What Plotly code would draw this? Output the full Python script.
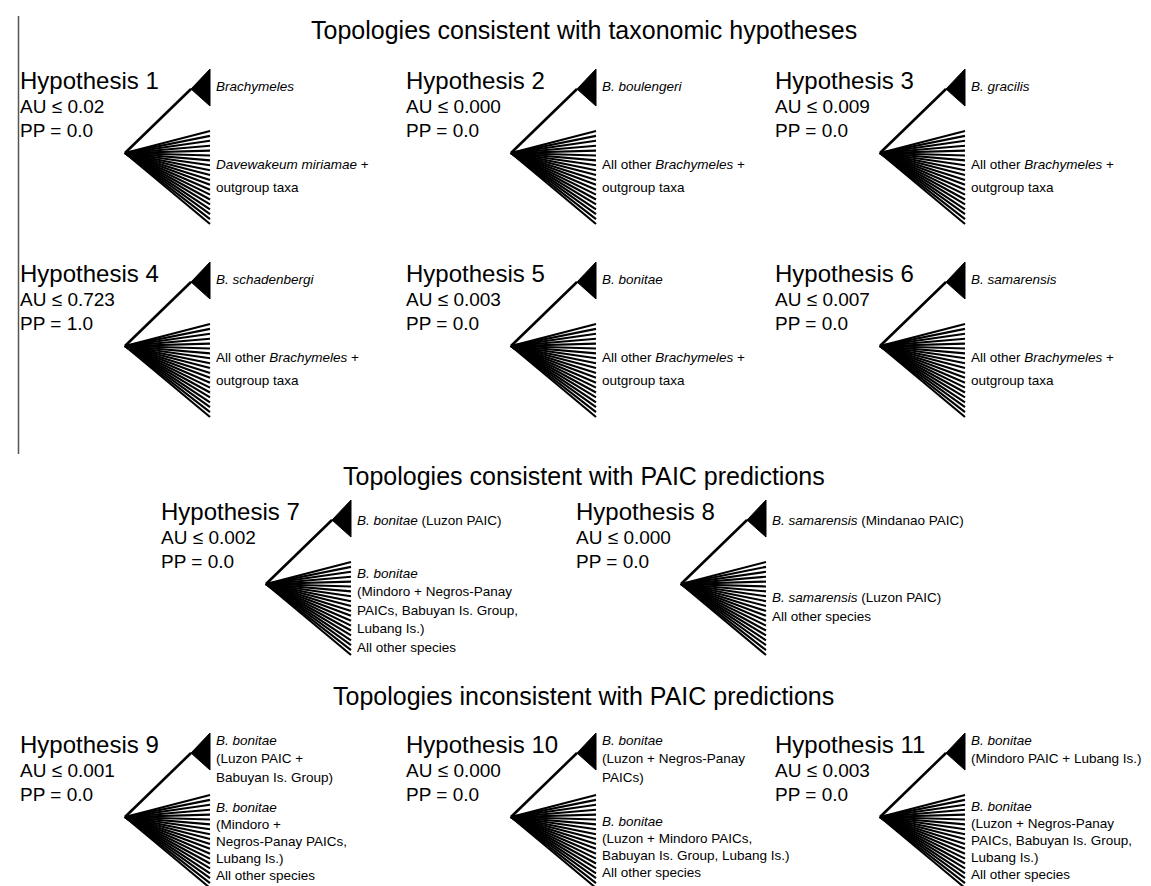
import plotly.graph_objects as go

# ---------------- data ----------------
section_titles = [
    "Topologies consistent with taxonomic hypotheses",
    "Topologies consistent with PAIC predictions",
    "Topologies inconsistent with PAIC predictions",
]
hyp_numbers = [1, 2, 3, 4, 5, 6, 7, 8, 9, 10, 11]
au_values = ["0.02", "0.000", "0.009", "0.723", "0.003", "0.007",
             "0.002", "0.000", "0.001", "0.000", "0.003"]
pp_values = ["0.0", "0.0", "0.0", "1.0", "0.0", "0.0",
             "0.0", "0.0", "0.0", "0.0", "0.0"]
upper_labels = [
    ["<i>Brachymeles</i>"],
    ["<i>B. boulengeri</i>"],
    ["<i>B. gracilis</i>"],
    ["<i>B. schadenbergi</i>"],
    ["<i>B. bonitae</i>"],
    ["<i>B. samarensis</i>"],
    ["<i>B. bonitae</i> (Luzon PAIC)"],
    ["<i>B. samarensis</i> (Mindanao PAIC)"],
    ["<i>B. bonitae</i>", "(Luzon PAIC +", "Babuyan Is. Group)"],
    ["<i>B. bonitae</i>", "(Luzon + Negros-Panay", "PAICs)"],
    ["<i>B. bonitae</i>", "(Mindoro PAIC + Lubang Is.)"],
]
lower_labels = [
    ["<i>Davewakeum miriamae</i> +", "outgroup taxa"],
    ["All other <i>Brachymeles</i> +", "outgroup taxa"],
    ["All other <i>Brachymeles</i> +", "outgroup taxa"],
    ["All other <i>Brachymeles</i> +", "outgroup taxa"],
    ["All other <i>Brachymeles</i> +", "outgroup taxa"],
    ["All other <i>Brachymeles</i> +", "outgroup taxa"],
    ["<i>B. bonitae</i>", "(Mindoro + Negros-Panay", "PAICs, Babuyan Is. Group,",
     "Lubang Is.)", "All other species"],
    ["<i>B. samarensis</i> (Luzon PAIC)", "All other species"],
    ["<i>B. bonitae</i>", "(Mindoro +", "Negros-Panay PAICs,", "Lubang Is.)",
     "All other species"],
    ["<i>B. bonitae</i>", "(Luzon + Mindoro PAICs,",
     "Babuyan Is. Group, Lubang Is.)", "All other species"],
    ["<i>B. bonitae</i>", "(Luzon + Negros-Panay", "PAICs, Babuyan Is. Group,",
     "Lubang Is.)", "All other species"],
]
n_fan_tips = 20

# ---------------- layout (pixel geometry) ----------------
W, H = 1151, 886
FONT = "Liberation Sans, Arial, Helvetica, sans-serif"
section_title_y = [22, 468, 688]
# root position of each panel's tree
panel_roots = [(117, 145), (503, 145), (872, 145),
               (117, 338), (503, 338), (872, 338),
               (258, 576), (673, 576),
               (117, 809), (503, 809), (872, 809)]
# (upper label first-line offset, upper spacing, lower first-line offset, lower spacing)
label_offsets = [(-67, 19, 11, 23)] * 6 + [
    (-64, 19, -11, 18.5),
    (-64, 19, 13, 19),
    (-77, 18.5, -10, 17),
    (-77, 18.5, 4, 17),
    (-77, 18, -11, 17),
]

fig = go.Figure()
annotations = []

def add_text(x, y, text, size, anchor="left"):
    annotations.append(dict(x=x, y=y, xref="x", yref="y", text=text,
                            showarrow=False, xanchor=anchor, yanchor="middle",
                            borderpad=0,
                            font=dict(family=FONT, size=size, color="black")))

# stray frame line on the left
fig.add_trace(go.Scatter(x=[10.5, 10.5], y=[8, 446], mode="lines",
                         line=dict(color="#555555", width=1.5),
                         hoverinfo="skip", showlegend=False))

for i, (rx, ry) in enumerate(panel_roots):
    # stem to collapsed clade
    apex = (rx + 66, ry - 64)
    right = rx + 85
    fig.add_trace(go.Scatter(x=[rx, apex[0]], y=[ry, apex[1]], mode="lines",
                             line=dict(color="black", width=2.6),
                             hoverinfo="skip", showlegend=False))
    fig.add_trace(go.Scatter(x=[apex[0], right, right, apex[0]],
                             y=[apex[1], ry - 84, ry - 47, apex[1]],
                             mode="lines", fill="toself", fillcolor="black",
                             line=dict(color="black", width=1),
                             hoverinfo="skip", showlegend=False))
    # fan of unresolved lineages
    top, bot = ry - 22, ry + 71
    xs, ys = [], []
    for k in range(n_fan_tips):
        ty = top + (bot - top) * k / (n_fan_tips - 1)
        xs += [rx, right, None]
        ys += [ry, ty, None]
    fig.add_trace(go.Scatter(x=xs, y=ys, mode="lines",
                             line=dict(color="black", width=2.1),
                             hoverinfo="skip", showlegend=False))
    # hypothesis text
    tx = rx - 106
    add_text(tx, ry - 73, f"Hypothesis {hyp_numbers[i]}", 24)
    add_text(tx, ry - 47, f"AU ≤ {au_values[i]}", 19)
    add_text(tx, ry - 23, f"PP = {pp_values[i]}", 19)
    # clade labels
    u0, us, l0, ls = label_offsets[i]
    for j, line in enumerate(upper_labels[i]):
        add_text(right + 5, ry + u0 + j * us, line, 13.5)
    for j, line in enumerate(lower_labels[i]):
        add_text(right + 5, ry + l0 + j * ls, line, 13.5)

for t, y in zip(section_titles, section_title_y):
    add_text(W / 2, y, t, 25, anchor="center")

fig.update_layout(
    width=W, height=H,
    margin=dict(l=0, r=0, t=0, b=0),
    paper_bgcolor="white", plot_bgcolor="white",
    xaxis=dict(range=[0, W], visible=False, fixedrange=True),
    yaxis=dict(range=[H, 0], visible=False, fixedrange=True),
    annotations=annotations,
    showlegend=False,
)
fig.write_html("out.html")
